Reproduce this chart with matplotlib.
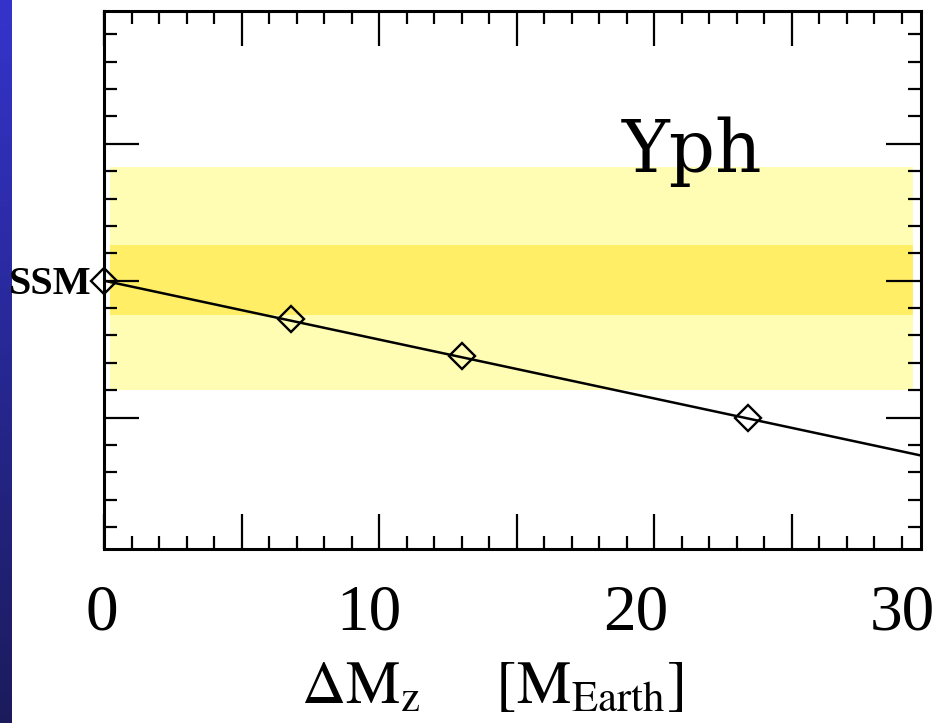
import numpy as np
import matplotlib
matplotlib.use("Agg")
import matplotlib.pyplot as plt
from matplotlib.ticker import MultipleLocator, FixedLocator
from matplotlib.colors import LinearSegmentedColormap
import matplotlib.transforms as mtransforms

plt.rcParams['mathtext.fontset'] = 'stix'

# ---------------- data ----------------
model_dm = [0.0, 6.8, 13.0, 23.4]              # Delta M_z [M_Earth]
model_yph = [0.2500, 0.2472, 0.2445, 0.2400]   # photospheric helium Yph
trend_dm = [0.0, 30.0]
trend_yph = [0.2500, 0.2371]
band_outer = [0.2420, 0.2583]                  # light-yellow band
band_inner = [0.2475, 0.2526]                  # darker-yellow band
xtick_values = [0, 10, 20, 30]
xtick_labels = ['0', '10', '20', '30']
ssm_yph = 0.2500

W, H = 938, 723
fig = plt.figure(figsize=(W / 100, H / 100), dpi=100)
fig.patch.set_facecolor('white')

# blue slide strip on the left
strip = fig.add_axes([0, 0, 11 / W, 1])
grad = np.linspace(0, 1, 256)[:, None]
cmap = LinearSegmentedColormap.from_list('slide', ['#3434CC', '#1B1B5C'])
strip.imshow(grad, aspect='auto', cmap=cmap, extent=[0, 1, 0, 1], origin='upper')
strip.axis('off')

# main panel
ax = fig.add_axes([104 / W, 174 / H, 817 / W, 538 / H])
ax.set_xlim(0, 29.7)
ax.set_ylim(0.2304, 0.2697)

ax.axhspan(band_outer[0], band_outer[1], xmin=0.007, xmax=0.99,
           color='#FFFDB4', lw=0, zorder=0)
ax.axhspan(band_inner[0], band_inner[1], xmin=0.007, xmax=0.99,
           color='#FFEE66', lw=0, zorder=0.5)

ax.plot(trend_dm, trend_yph, color='black', lw=1.8, zorder=2)
ax.plot(model_dm, model_yph, ls='none', marker='D', ms=13.5, mfc='none',
        mec='black', mew=1.7, clip_on=False, zorder=3)

ax.xaxis.set_major_locator(MultipleLocator(5))
ax.xaxis.set_minor_locator(MultipleLocator(1))
ax.yaxis.set_major_locator(MultipleLocator(0.01))
ax.yaxis.set_minor_locator(MultipleLocator(0.002))
ax.tick_params(which='both', direction='in', top=True, right=True,
               labelbottom=False, labelleft=False, width=1.6, color='black')
ax.tick_params(which='major', length=25)
ax.tick_params(which='minor', length=9.5)
for s in ax.spines.values():
    s.set_linewidth(2.2)
    s.set_color('black')

ax.text(0.634, 0.7007, 'Yph', transform=ax.transAxes, fontsize=52,
        family='DejaVu Serif', va='baseline', ha='left')

trans = mtransforms.blended_transform_factory(ax.transAxes, ax.transData)
ax.text(-0.0155, ssm_yph - 0.0010, 'SSM', transform=trans, ha='right',
        va='baseline', fontsize=29, fontweight='bold',
        family='Liberation Serif')

# overlaid axis labels (slide annotation)
lab = fig.add_axes([102 / W, 174 / H, 800 / W, 0.0001])
lab.set_xlim(0, 30)
lab.xaxis.set_major_locator(FixedLocator(xtick_values))
lab.set_xticklabels(xtick_labels, fontsize=47, family='Liberation Serif')
lab.tick_params(axis='x', length=0, pad=25)
lab.set_yticks([])
for s in lab.spines.values():
    s.set_visible(False)
lab.patch.set_visible(False)
lab.set_xlabel(r'$\Delta\mathrm{M}_\mathrm{z}\ \ \ \ \ [\mathrm{M}_\mathrm{Earth}]$',
               fontsize=44, labelpad=10, x=0.4885)

fig.savefig('out.png', dpi=100, facecolor='white')
